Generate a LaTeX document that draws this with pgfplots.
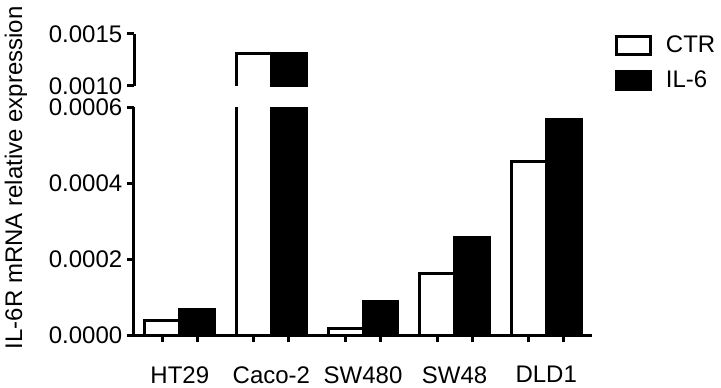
\documentclass[border=0pt]{standalone}
\usepackage{pgfplots}
\usepackage{pgfplotstable}
\pgfplotsset{compat=1.18}
\usepackage{fontspec}
\setmainfont{Liberation Sans}
\pgfplotstableread{
x ctr il6
0 0.000038 0.000068
1 0.00131 0.00131
2 0.000017 0.000087
3 0.000161 0.000257
4 0.000457 0.000567
}\datatable
\begin{document}
\begin{tikzpicture}
\useasboundingbox (0,0) rectangle (540.75pt,290.25pt);
\pgfplotsset{
  common/.style={
    scale only axis, width=343.5pt,
    xmin=-0.5, xmax=4.5,
    bar width=0.38,
    axis line style={-, line width=2.25pt, black},
    tick style={line width=2.25pt, black},
    major tick length=5.25pt,
    minor tick length=5.25pt,
    tick align=outside,
    ytick pos=left,
    scaled y ticks=false,
    tick label style={font=\fontsize{18}{21.6}\selectfont},
    label style={font=\fontsize{18}{21.6}\selectfont},
    every axis plot/.append style={line width=2.25pt, draw=black},
  },
  ctr/.style={fill=white, bar shift=-0.19},
  il/.style={fill=black, bar shift=0.19},
  hidden/.style={draw=none, fill=none},
  lower/.style={at={(100.5pt,39pt)}, anchor=south west,
    height=171pt, ymin=0, ymax=0.0006},
  upper/.style={at={(100.5pt,225.75pt)}, anchor=south west,
    height=39pt, ymin=0.0010, ymax=0.0015},
}
% lower axis
\begin{axis}[common, ybar, lower,
  axis x line*=bottom, axis y line*=left,
  xtick pos=bottom,
  ytick={0,0.0002,0.0004,0.0006},
  yticklabels={0.0000,0.0002,0.0004,0.0006},
  xtick={-0.19,0.19,0.81,1.19,1.81,2.19,2.81,3.19,3.81,4.19},
  xticklabels={},
  ylabel={IL-6R mRNA relative expression},
  ylabel style={at={(axis description cs:-0.258,0.689)}, anchor=center},
]
\addplot[ctr] table[x=x,y=ctr]{\datatable};
\addplot[il] table[x=x,y=il6]{\datatable};
\end{axis}
% category names, set under the group centres
\begin{axis}[common, lower,
  axis line style={draw=none},
  tick style={draw=none},
  major tick length=0pt,
  xtick pos=bottom,
  xtick={0,1,2,3,4},
  xticklabels={HT29,Caco-2,SW480,SW48,DLD1},
  xticklabel style={yshift=-20pt},
  ytick=\empty,
]
\end{axis}
% upper axis, IL-6 bars (filled, so their clipped base is invisible)
\begin{axis}[common, ybar, upper,
  axis x line=none, axis y line=none,
  xtick=\empty, ytick=\empty,
]
\addplot[il, restrict y to domain=0.001:1] table[x=x,y=il6]{\datatable};
\end{axis}
% upper axis, CTR bars continue from below the break
\begin{axis}[common, ybar stacked, upper,
  axis x line=none, axis y line*=left,
  ytick={0.0010,0.0015},
  yticklabels={0.0010,0.0015},
  xtick=\empty,
  legend entries={CTR,IL-6},
  legend style={at={(axis description cs:1.0502,1.019)}, anchor=north west,
    draw=none, fill=none, inner sep=0pt, row sep=8pt,
    font=\fontsize{18}{21.6}\selectfont, cells={anchor=west}},
]
\addlegendimage{legend image code/.code={\draw[line width=2.25pt, fill=white] (1.125pt,-6.75pt) rectangle (26.625pt,6.75pt); \path[draw=none] (26.625pt,0pt) -- (36pt,0pt);}}
\addlegendimage{legend image code/.code={\draw[line width=2.25pt, fill=black] (1.125pt,-6.75pt) rectangle (26.625pt,6.75pt); \path[draw=none] (26.625pt,0pt) -- (36pt,0pt);}}
\addplot[hidden, bar shift=-0.19, forget plot] table[x=x,y expr=0.0009]{\datatable};
\addplot[ctr, forget plot] table[x=x,y expr=\thisrow{ctr}-0.0009]{\datatable};
\end{axis}
\end{tikzpicture}
\end{document}
